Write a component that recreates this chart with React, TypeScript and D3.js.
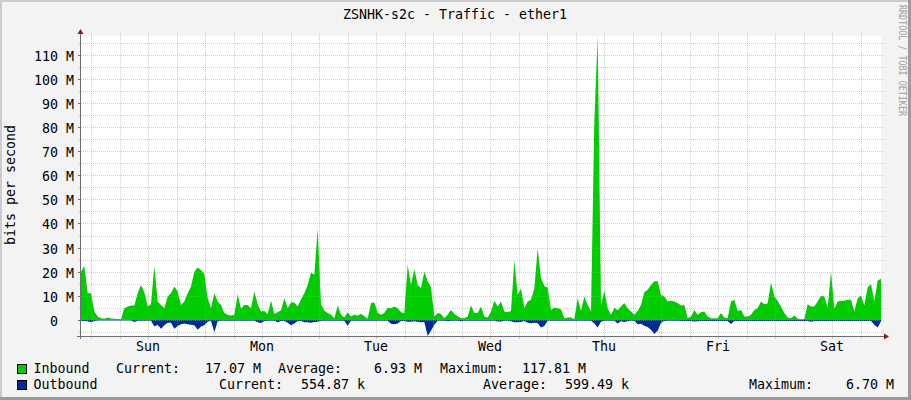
import React from 'react';
import * as d3 from 'd3';

// ---- data (Mbit/s), one sample every 42.1 minutes, starting Sat 21:54 ----
const sampleMinutes = 42.1;
const startHour = -2.105; // relative to Sunday 00:00

const inboundSun = [20, 22.4, 11, 11, 3.5, 1.4, 0.7, 0.5, 1.0, 0.6,
  0.5, 0.4, 0.3, 4.8, 5.5, 6, 6, 11, 14.5, 11.5,
  5.5, 6.5, 22.4, 7.6, 6.2, 4.8, 9.7, 11, 13.8, 11.8,
  6.2, 7.6, 11, 13.8, 20, 21.7, 20.7, 19, 9, 4.8,
  11, 7.6, 6.2, 2.8, 2.1, 1.8, 2.1, 10.6, 4.6, 6.2,
  6.2, 4.8, 11.8, 6.5, 3.5, 3.7, 2.4, 7.9, 2.4, 3.2];
const inboundMonTue = [4, 9, 4.8, 7.2, 7.2, 5.5, 8.5, 11, 14.5, 19.5,
  18.7, 37.8, 6.5, 3.8, 2.8, 2.1, 0.7, 6, 2.1, 1.0,
  3.2, 1.4, 2.1, 1.7, 2.5, 1.5, 0.5, 7, 7.2, 3,
  2.1, 2.8, 5, 4.8, 5.5, 4.8, 3.2, 2.8, 22.8, 14.5,
  21, 14.5, 13.2, 20, 16, 13.5, 1.4, 2.8, 2.4, 0.7,
  2.1, 4.1, 2.4, 1.5, 0.7, 0.7, 1.4, 6, 3, 2.8];
const inboundWedThu = [5.5, 1.4, 1.0, 3.4, 7.9, 5.5, 7.6, 3.5, 3.2, 3.7,
  24.5, 10.4, 12.9, 4.8, 7.6, 8.3, 13, 29.7, 17.3, 14,
  13.3, 4.1, 5.1, 4.8, 4.4, 0.7, 1.0, 1.0, 0.3, 9,
  3.7, 9.7, 6.2, 3.5, 82, 117.81, 6.2, 12, 4.8, 2.1,
  5, 4, 5.5, 7, 4.8, 3.5, 2.1, 3.7, 6.2, 11.5,
  12.5, 14.5, 16, 16, 10.4, 9.7, 7.6, 7.9, 7.6, 7];
const inboundFriSat = [6, 6.2, 0.7, 1.4, 4.1, 2.1, 3.2, 3.5, 1.4, 0.7,
  0.7, 0.7, 2.8, 1.0, 0.7, 7.6, 8.3, 3.7, 4.1, 1.4,
  1.4, 2.1, 4.1, 4.8, 7.6, 6.5, 6.9, 15.5, 9.7, 7.9,
  5.5, 2.8, 1.0, 0.7, 1.8, 0.5, 0.3, 0.4, 6.5, 5.5,
  5.5, 7.6, 10, 9.7, 5, 20, 4.6, 7.6, 7.9, 7.9,
  8.3, 8.3, 3.5, 9, 10, 6, 13.5, 14.8, 7.6, 16.3,
  17.07];

const outboundSun = [0.5, 0.5, 0.6, 1.0, 0.5, 0.3, 0.3, 0.3, 0.3, 0.3,
  0.3, 0.3, 0.3, 0.3, 0.3, 0.3, 0.9, 0.4, 0.4, 0.4,
  0.4, 0.4, 2.8, 2.0, 3.7, 2.2, 1.2, 1.2, 3.7, 2.5,
  1.8, 1.5, 1.8, 2.0, 2.2, 4.1, 2.8, 2.2, 0.8, 0.4,
  5.1, 0.6, 0.4, 0.4, 0.4, 0.4, 0.4, 0.4, 0.4, 0.4,
  0.4, 0.4, 0.4, 1.0, 1.3, 0.5, 0.4, 0.4, 0.4, 1.0];
const outboundMonTue = [0.5, 0.5, 1.2, 2.2, 1.5, 0.5, 0.5, 1.0, 1.0, 1.2,
  0.9, 0.8, 0.4, 0.4, 0.4, 0.4, 0.4, 0.4, 0.4, 0.4,
  2.4, 0.4, 0.4, 0.4, 0.4, 0.4, 0.4, 0.4, 0.4, 0.4,
  0.4, 0.4, 0.4, 1.6, 1.8, 1.5, 0.5, 0.5, 0.8, 0.8,
  0.6, 0.8, 1.0, 0.9, 6.7, 4.5, 2.0, 0.4, 0.4, 0.4,
  0.6, 0.4, 0.4, 0.4, 0.6, 0.4, 0.4, 0.4, 0.4, 0.4];
const outboundWedThu = [0.4, 0.4, 0.4, 0.4, 0.4, 0.7, 0.7, 0.4, 0.4, 0.6,
  1.0, 1.0, 0.9, 0.5, 1.2, 1.4, 1.2, 1.4, 3.2, 2.5,
  0.4, 0.4, 0.4, 0.4, 0.4, 0.4, 0.4, 0.4, 0.4, 0.4,
  0.4, 0.4, 0.4, 0.4, 1.5, 3.2, 0.8, 0.4, 0.4, 0.4,
  0.4, 1.5, 0.6, 0.9, 0.6, 0.4, 0.4, 1.8, 1.6, 2.4,
  3.0, 4.1, 5.9, 4.5, 1.2, 0.5, 0.4, 0.4, 0.4, 0.4];
const outboundFriSat = [0.45, 0.45, 0.45, 0.45, 0.7, 0.6, 0.45, 0.45, 0.45, 0.45,
  0.45, 0.45, 0.45, 0.45, 0.45, 1.7, 0.45, 0.45, 0.45, 0.45,
  0.45, 0.45, 0.45, 0.45, 0.45, 0.45, 0.45, 0.45, 0.45, 0.45,
  0.45, 0.45, 0.45, 0.45, 0.45, 0.45, 0.45, 0.45, 0.45, 0.8,
  0.45, 0.45, 0.45, 0.45, 0.45, 0.45, 0.45, 0.45, 0.45, 0.45,
  0.45, 0.45, 0.45, 0.45, 0.45, 0.45, 0.45, 0.45, 2.0, 3.2,
  0.55];

const dayLabels = ['Sun', 'Mon', 'Tue', 'Wed', 'Thu', 'Fri', 'Sat'];
const yMajorTicks = [0, 10, 20, 30, 40, 50, 60, 70, 80, 90, 100, 110];
const yMinorTicks = [-5, 5, 15, 25, 35, 45, 55, 65, 75, 85, 95, 105, 115];
const yDomain = [-6.70, 117.81];

const legendRows = [
  { name: 'Inbound', color: '#00CC00', cur: '17.07 M', avg: '6.93 M', max: '117.81 M' },
  { name: 'Outbound', color: '#002A97', cur: '554.87 k', avg: '599.49 k', max: '6.70 M' },
];

const inbound = [...inboundSun, ...inboundMonTue, ...inboundWedThu, ...inboundFriSat];
const outbound = [...outboundSun, ...outboundMonTue, ...outboundWedThu, ...outboundFriSat];

const W = 911, H = 400;
const L = 81, R = 881, T = 36, B = 336;
const FONT = "'DejaVu Sans Mono', monospace";
const FS = 13.3;
const GRID = 'rgba(128,128,128,0.37)';
const MGRID = 'rgba(224,128,128,0.5)';

export default function App() {
  const hourAt = (i: number) => startHour + (i * sampleMinutes) / 60;
  const endHour = hourAt(inbound.length - 1);
  const x = d3.scaleLinear().domain([startHour, endHour]).range([L, R]);
  const y = d3.scaleLinear().domain(yDomain).range([B, T]);

  const inArea = d3.area<number>()
    .x((_, i) => x(hourAt(i)))
    .y0(y(0))
    .y1((d) => y(d));
  const outArea = d3.area<number>()
    .x((_, i) => x(hourAt(i)))
    .y0(y(0))
    .y1((d) => y(-d));

  const sixHours = d3.range(0, endHour, 6).filter((h) => h >= startHour);
  const px = (v: number) => Math.round(v) + 0.5;

  const tickLabel = (v: number) => (v === 0 ? '0  ' : `${v} M`);

  return (
    <svg width={W} height={H} style={{ display: 'block', position: 'absolute', left: 0, top: 0 }}>
      <defs>
        <clipPath id="canvasClip">
          <rect x={L} y={T - 3} width={R - L} height={B - T + 3} />
        </clipPath>
      </defs>
      <rect x={0} y={0} width={W} height={H} fill="#F3F3F3" />
      <rect x={0} y={0} width={W} height={2} fill="#CBCBCB" />
      <rect x={0} y={0} width={2} height={H} fill="#CBCBCB" />
      <rect x={0} y={H - 3} width={W} height={3} fill="#9B9B9B" />
      <rect x={W - 3} y={0} width={3} height={H} fill="#9B9B9B" />

      <rect x={L} y={T} width={R - L} height={B - T} fill="#FFFFFF" />

      <g clipPath="url(#canvasClip)">
        <path d={inArea(inbound) || ''} fill="#00CC00" />
        <path d={outArea(outbound) || ''} fill="#002A97" />
      </g>

      {/* grid */}
      {yMinorTicks.map((v) => (
        <g key={'ym' + v}>
          <line x1={L} x2={R + 3} y1={px(y(v))} y2={px(y(v))} stroke={GRID} strokeDasharray="1,1" />
          <line x1={L - 2} x2={L} y1={px(y(v))} y2={px(y(v))} stroke={GRID} />
        </g>
      ))}
      {sixHours.filter((h) => h % 24 !== 0).map((h) => (
        <g key={'xm' + h}>
          <line x1={px(x(h))} x2={px(x(h))} y1={T - 3} y2={B} stroke={GRID} strokeDasharray="1,1" />
          <line x1={px(x(h))} x2={px(x(h))} y1={B} y2={B + 3} stroke={GRID} />
        </g>
      ))}
      {yMajorTicks.map((v) => (
        <g key={'yM' + v}>
          <line x1={L} x2={R + 3} y1={px(y(v))} y2={px(y(v))} stroke={MGRID} strokeDasharray="1,1" />
          <line x1={L - 3} x2={L} y1={px(y(v))} y2={px(y(v))} stroke="#777" />
        </g>
      ))}
      {sixHours.filter((h) => h % 24 === 0).map((h) => (
        <g key={'xM' + h}>
          <line x1={px(x(h))} x2={px(x(h))} y1={T - 3} y2={B} stroke={MGRID} strokeDasharray="1,1" />
          <line x1={px(x(h))} x2={px(x(h))} y1={B} y2={B + 3} stroke={MGRID} />
        </g>
      ))}

      {/* axes */}
      <line x1={L - 0.5} x2={L - 0.5} y1={T - 3} y2={B + 3} stroke="#6E6E6E" />
      <line x1={L - 4} x2={R + 3} y1={B + 0.5} y2={B + 0.5} stroke="#6E6E6E" />
      <path d={`M${L - 3.5},${T - 2} L${L + 2.5},${T - 2} L${L - 0.5},${T - 7} Z`} fill="#8B1A1A" />
      <path d={`M${R + 3},${B - 2.5} L${R + 3},${B + 3.5} L${R + 8},${B + 0.5} Z`} fill="#8B1A1A" />

      {/* texts */}
      <g fontFamily={FONT} fontSize={FS} fill="#000">
        <text x={455} y={19} textAnchor="middle">ZSNHK-s2c - Traffic - ether1</text>
        <text transform="translate(15,185) rotate(-90)" textAnchor="middle">bits per second</text>
        {yMajorTicks.map((v) => (
          <text key={'yl' + v} x={74} y={px(y(v)) + 5.3} textAnchor="end" xmlSpace="preserve" style={{ whiteSpace: 'pre' }}>
            {tickLabel(v)}
          </text>
        ))}
        {dayLabels.map((d, k) => (
          <text key={d} x={x(12 + 24 * k)} y={351} textAnchor="middle">{d}</text>
        ))}

        {/* legend */}
        {legendRows.map((r, k) => {
          const by = 373 + k * 16;
          const pos = k === 0
            ? { cur: 116, curV: 261, avg: 278, avgV: 422, max: 440, maxV: 586 }
            : { cur: 219, curV: 365, avg: 483, avgV: 629, max: 749, maxV: 894 };
          return (
            <g key={r.name}>
              <rect x={17.5} y={by - 8.5} width={9} height={9} fill={r.color} stroke="#000" />
              <text x={33.5} y={by}>{r.name}</text>
              <text x={pos.cur} y={by}>Current:</text>
              <text x={pos.curV} y={by} textAnchor="end">{r.cur}</text>
              <text x={pos.avg} y={by}>Average:</text>
              <text x={pos.avgV} y={by} textAnchor="end">{r.avg}</text>
              <text x={pos.max} y={by}>Maximum:</text>
              <text x={pos.maxV} y={by} textAnchor="end">{r.max}</text>
            </g>
          );
        })}
      </g>
      <text transform="translate(899,5) rotate(90)" fontFamily={FONT} fontSize={11} fill="#A0A0A0"
        textLength={111} lengthAdjust="spacingAndGlyphs">RRDTOOL / TOBI OETIKER</text>
    </svg>
  );
}
